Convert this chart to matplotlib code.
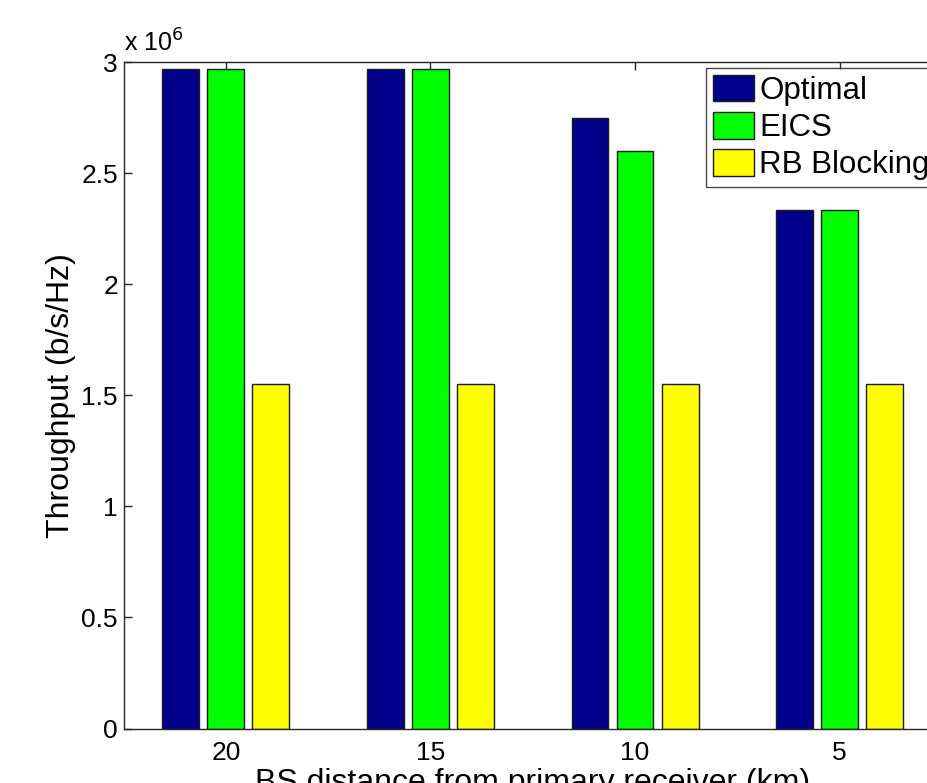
import matplotlib
matplotlib.use("Agg")
import matplotlib.pyplot as plt
import numpy as np
from matplotlib.ticker import FuncFormatter, FixedLocator

plt.rcParams['font.family'] = ['Liberation Sans', 'DejaVu Sans']

# Distances of the base station from the primary receiver (km)
distances = ["20", "15", "10", "5"]
series_names = ["Optimal", "EICS", "RB Blocking"]
optimal = [2.97e6, 2.97e6, 2.75e6, 2.335e6]
eics = [2.97e6, 2.97e6, 2.60e6, 2.335e6]
rb_blocking = [1.55e6, 1.55e6, 1.55e6, 1.55e6]
colors = ["#00008B", "#00FF00", "#FFFF00"]

fig = plt.figure(figsize=(9.28, 7.83), dpi=100)
ax = fig.add_axes([0.1331, 0.0696, 0.882, 0.8512])

x = np.arange(1, len(distances) + 1)
offset = 0.22
width = 0.18
for i, (vals, name, c) in enumerate(zip([optimal, eics, rb_blocking], series_names, colors)):
    ax.bar(x + (i - 1) * offset, vals, width=width, color=c, edgecolor="#1a1a1a",
           linewidth=1.0, label=name, zorder=2)

ax.set_xlim(0.5, 4.5)
ax.set_ylim(0, 3e6)
ax.set_xticks(x)
ax.set_xticklabels(distances)
ax.yaxis.set_major_locator(FixedLocator(np.arange(0, 3.01e6, 0.5e6)))
ax.yaxis.set_major_formatter(FuncFormatter(lambda v, p: f"{v/1e6:g}"))

for s in ax.spines.values():
    s.set_color("#262626")
    s.set_linewidth(1.0)

ax.tick_params(axis="both", direction="in", length=6, width=1.0, colors="#262626",
               labelsize=19, labelcolor="black")
ax.tick_params(axis="x", top=True, pad=9)
ax.tick_params(axis="y", right=True, pad=4)

ax.set_ylabel("Throughput (b/s/Hz)", fontsize=23, labelpad=4)
ax.set_xlabel("BS distance from primary receiver (km)", fontsize=23, labelpad=2)

ax.text(0.0, 1.008, r"x 10$^{6}$", transform=ax.transAxes, fontsize=18,
        ha="left", va="bottom")

leg = ax.legend(loc="upper left", bbox_to_anchor=(0.7608, 0.9135),
                bbox_transform=fig.transFigure, fontsize=22.5, frameon=True,
                fancybox=False, borderaxespad=0, borderpad=0.22,
                handlelength=1.32, handleheight=0.94, handletextpad=0.16,
                labelspacing=0.2)
leg.get_frame().set_edgecolor("#1a1a1a")
leg.get_frame().set_linewidth(1.0)

fig.savefig("out.png", dpi=100)
